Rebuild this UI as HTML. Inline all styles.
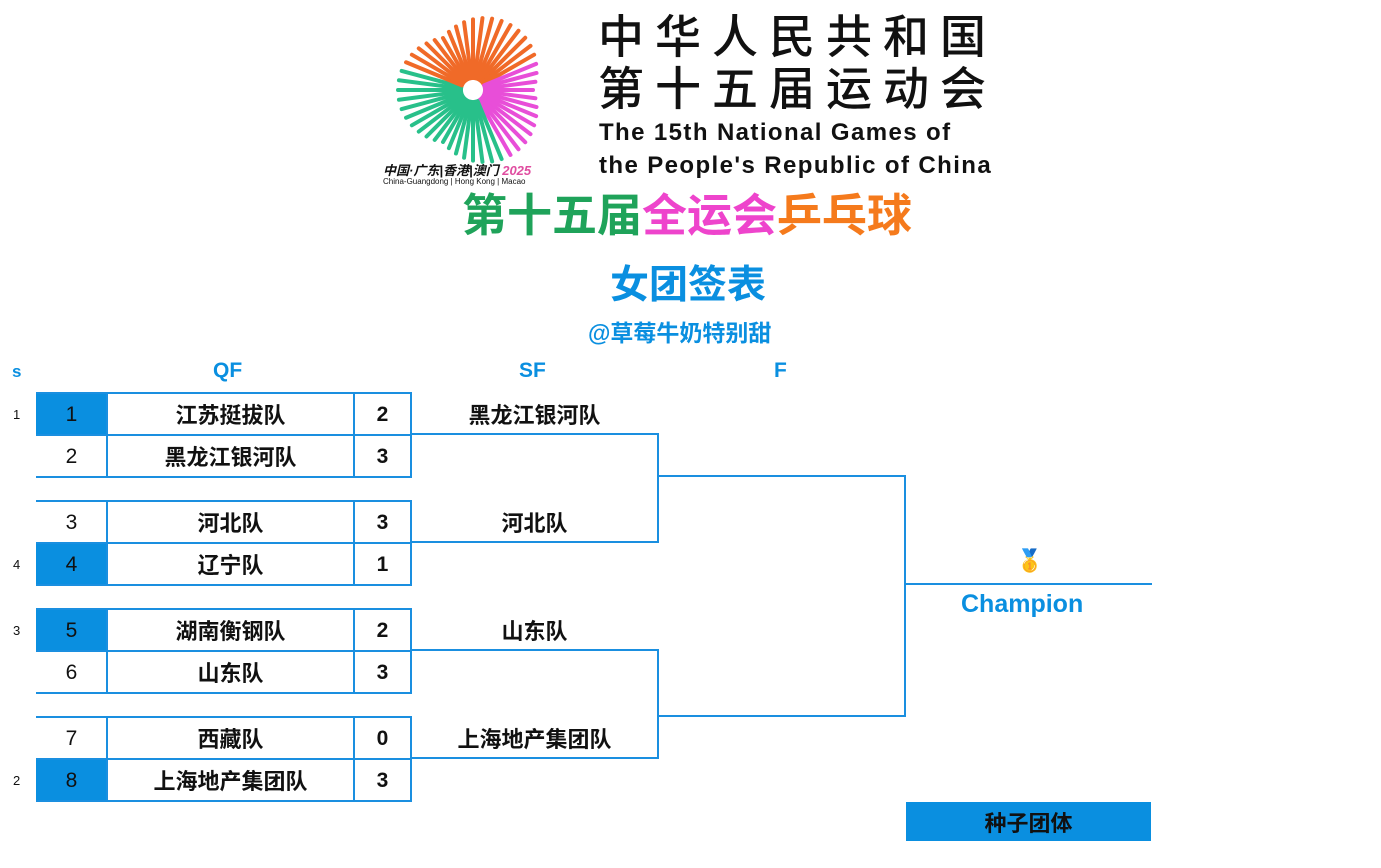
<!DOCTYPE html>
<html><head><meta charset="utf-8"><style>
body{margin:0;width:1381px;height:868px;background:#fff;position:relative;overflow:hidden;font-family:"Liberation Sans","Noto Sans CJK SC",sans-serif}
.a{position:absolute}
.h{position:absolute;height:2px;background:#1a8fe0}
.v{position:absolute;width:2px;background:#1a8fe0}
.c{position:absolute;display:flex;align-items:center;justify-content:center;font-size:21px;color:#111}
.b{font-weight:bold}
.seed{background:#0a8fe0}
.t{position:absolute;color:#0a8fe0;font-weight:bold;font-size:21px}
.sm{position:absolute;font-size:13px;color:#111}
</style></head><body>
<svg class="a" style="left:385px;top:0" width="190" height="190" id="logo"></svg>
<div class="a" style="left:383px;top:160px;font-size:13px;font-weight:bold;font-style:italic;color:#111;white-space:nowrap">中国·广东|香港|澳门 <span style="color:#e04da0">2025</span></div>
<div class="a" style="left:383px;top:177px;font-size:8px;color:#111;white-space:nowrap">China-Guangdong | Hong Kong | Macao</div>
<div class="a" style="left:598px;top:8px;font-size:46px;letter-spacing:11px;color:#111;line-height:52px;white-space:nowrap;font-weight:500;font-family:'Noto Sans CJK SC',sans-serif">中华人民共和国<br>第十五届运动会</div>
<div class="a" style="left:599px;top:116px;font-size:24px;letter-spacing:1.4px;color:#111;line-height:33px;white-space:nowrap;font-weight:bold;font-family:'Liberation Sans',sans-serif">The 15th National Games of<br>the People's Republic of China</div>
<div class="a b" style="left:462px;top:190px;font-size:45px;white-space:nowrap;line-height:52px"><span style="color:#1fa35a">第十五届</span><span style="color:#ee44cc">全运会</span><span style="color:#f57a1c">乒乓球</span></div>
<div class="a b" style="left:610px;top:254px;font-size:39px;color:#0a8fe0;white-space:nowrap">女团签表</div>
<div class="a b" style="left:588px;top:314px;font-size:23px;color:#0a8fe0;white-space:nowrap">@草莓牛奶特别甜</div>
<div class="t" style="left:12px;top:362px;font-size:17px">s</div>
<div class="t" style="left:213px;top:359px">QF</div>
<div class="t" style="left:519px;top:359px">SF</div>
<div class="t" style="left:774px;top:359px">F</div>
<div id="br"></div>
<div class="a" style="left:1016px;top:548px;font-size:22px">🥇</div>
<div class="h" style="left:905px;top:583px;width:247px"></div>
<div class="t" style="left:961px;top:590px;font-size:25px">Champion</div>
<div class="c seed b" style="left:906px;top:802px;width:245px;height:39px;font-size:22px">种子团体</div>
<script>
var s='',rows=[[392,'1','1','江苏挺拔队','2',1],[434,'','2','黑龙江银河队','3',0],[500,'','3','河北队','3',0],[542,'4','4','辽宁队','1',1],[608,'3','5','湖南衡钢队','2',1],[650,'','6','山东队','3',0],[716,'','7','西藏队','0',0],[758,'2','8','上海地产集团队','3',1]];
rows.forEach(function(r){var y=r[0];
if(r[5])s+='<div class="c seed" style="left:36px;top:'+y+'px;width:71px;height:42px"></div>';
s+='<div class="c" style="left:36px;top:'+(y+2)+'px;width:71px;height:42px">'+r[2]+'</div>';
s+='<div class="c b" style="left:107px;top:'+(y+1)+'px;width:247px;height:42px;font-size:22px">'+r[3]+'</div>';
s+='<div class="c b" style="left:354px;top:'+(y+2)+'px;width:57px;height:42px">'+r[4]+'</div>';
if(r[1])s+='<div class="sm" style="left:13px;top:'+(y+15)+'px">'+r[1]+'</div>';
s+='<div class="h" style="left:36px;top:'+y+'px;width:376px"></div><div class="h" style="left:36px;top:'+(y+42)+'px;width:376px"></div>';
s+='<div class="v" style="left:106px;top:'+y+'px;height:42px"></div><div class="v" style="left:353px;top:'+y+'px;height:42px"></div><div class="v" style="left:410px;top:'+y+'px;height:44px"></div>';});
[[392,'黑龙江银河队'],[500,'河北队'],[608,'山东队'],[716,'上海地产集团队']].forEach(function(r){s+='<div class="c b" style="left:411px;top:'+(r[0]+1)+'px;width:247px;height:42px;font-size:22px">'+r[1]+'</div>';});
s+='<div class="h" style="left:411px;top:433px;width:248px"></div><div class="h" style="left:411px;top:541px;width:248px"></div><div class="v" style="left:657px;top:433px;height:110px"></div>';
s+='<div class="h" style="left:411px;top:649px;width:248px"></div><div class="h" style="left:411px;top:757px;width:248px"></div><div class="v" style="left:657px;top:649px;height:110px"></div>';
s+='<div class="h" style="left:658px;top:475px;width:248px"></div><div class="h" style="left:658px;top:715px;width:248px"></div><div class="v" style="left:904px;top:475px;height:242px"></div>';
document.getElementById('br').innerHTML=s;
var g='',cx=88,cy=90;
for(var i=0;i<48;i++){var a=i/48*Math.PI*2;var deg=a*180/Math.PI;var col=(deg>=200&&deg<330)?'#f06a28':((deg>=330||deg<60)?'#e84ed8':'#28c08a');
var r0=12,r1=60+15*Math.abs(Math.sin(a*1.5));
g+='<line x1="'+(cx+r0*Math.cos(a))+'" y1="'+(cy+r0*Math.sin(a))+'" x2="'+(cx+r1*Math.cos(a))+'" y2="'+(cy+r1*Math.sin(a))+'" stroke="'+col+'" stroke-width="4" stroke-linecap="round"/>';}
document.getElementById('logo').innerHTML=g;
</script>
</body></html>
